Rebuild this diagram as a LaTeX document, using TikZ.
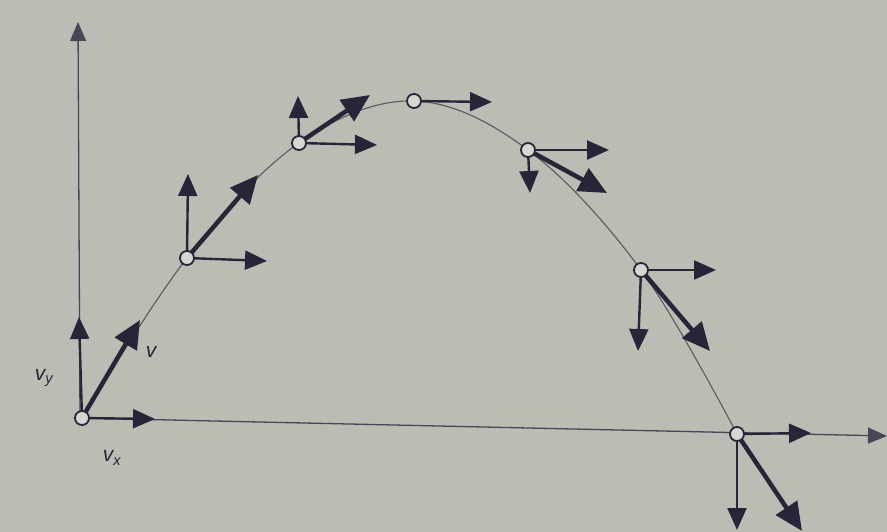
\documentclass[tikz,border=0pt]{standalone}
\usepackage{fontspec}
\setsansfont{Liberation Sans}
\usetikzlibrary{arrows.meta}
\definecolor{bg}{RGB}{188,188,180}
\definecolor{ink}{RGB}{38,38,56}
\definecolor{curve}{RGB}{90,90,90}
\begin{document}
\begin{tikzpicture}[x=1pt,y=-1pt,
  axis/.style={draw=ink!85,line width=1.3pt,-{Triangle[length=19pt,width=16pt]}},
  comp/.style={draw=ink,line width=2.4pt,-{Triangle[length=22pt,width=19pt]}},
  vel/.style={draw=ink,line width=4.5pt,-{Triangle[length=28pt,width=25pt]}},
  pt/.style={circle,draw=ink,line width=1.8pt,fill=bg!60!white,minimum size=14pt,inner sep=0pt},
  lab/.style={font=\sffamily\itshape\fontsize{21}{21}\selectfont,text=ink}]
\fill[bg] (0,0) rectangle (887,532);
\useasboundingbox (0,0) rectangle (887,532);
% axes
\coordinate (O) at (80,418);
\coordinate (Ytop) at (78,22);
\coordinate (Xend) at (887,436);
\draw[axis] (O) -- (Ytop);
\draw[axis] (O) -- (Xend);
% trajectory
\draw[curve,line width=1.1pt] plot[smooth,tension=0.6] coordinates {(82,418) (187,258) (299,143) (414,101) (528,150) (641,270) (737,434)};
% points
\coordinate (p0) at (82,418);
\coordinate (p1) at (187,258);
\coordinate (p2) at (299,143);
\coordinate (p3) at (414,101);
\coordinate (p4) at (528,150);
\coordinate (p5) at (641,270);
\coordinate (p6) at (737,434);
% tips
\coordinate (p0x) at (155,419); \coordinate (p0y) at (79,317); \coordinate (p0v) at (140,320);
\coordinate (p1x) at (267,261); \coordinate (p1y) at (188,174); \coordinate (p1v) at (258,175);
\coordinate (p2x) at (377,145); \coordinate (p2y) at (298,96);  \coordinate (p2v) at (370,95);
\coordinate (p3x) at (492,102);
\coordinate (p4x) at (609,150); \coordinate (p4y) at (530,193); \coordinate (p4v) at (607,193);
\coordinate (p5x) at (716,270); \coordinate (p5y) at (638,351); \coordinate (p5v) at (710,351);
\coordinate (p6x) at (811,433); \coordinate (p6y) at (737,530); \coordinate (p6v) at (802,531);
% components
\foreach \p in {p0,p1,p2,p4,p5,p6}{
  \draw[comp] (\p) -- (\p x);
  \draw[comp] (\p) -- (\p y);
  \draw[vel] (\p) -- (\p v);
}
\draw[comp] (p3) -- (p3x);
\foreach \p in {p0,p1,p2,p3,p4,p5,p6}{
  \node[pt] (\p c) at (\p) {};
}
% labels
\node[lab] (lvy) at (44,378) {v\textsubscript{y}};
\node[lab] (lv) at (151,352) {v};
\node[lab] (lvx) at (112,458) {v\textsubscript{x}};
\end{tikzpicture}
\end{document}
